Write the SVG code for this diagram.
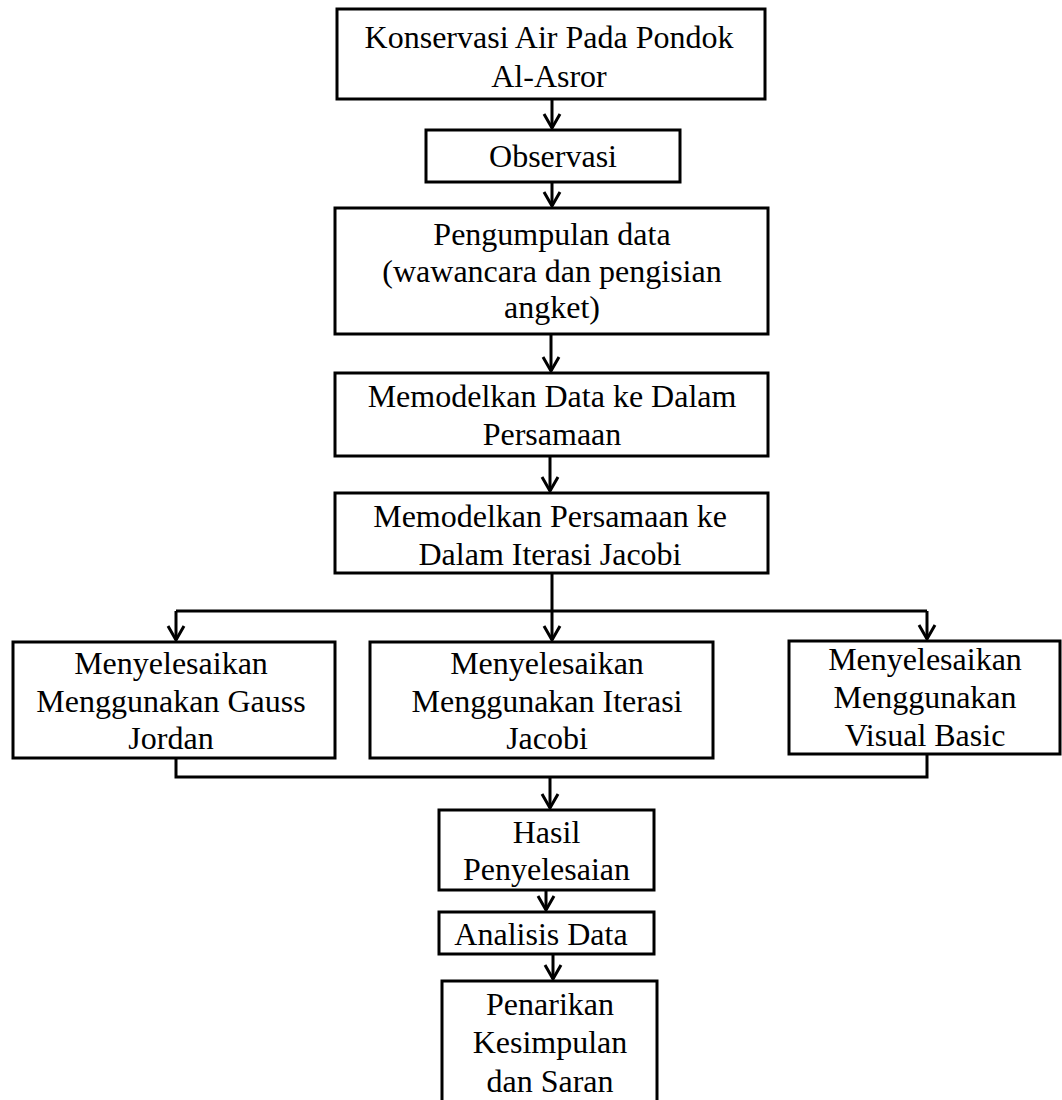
<svg xmlns="http://www.w3.org/2000/svg" width="1062" height="1100" viewBox="0 0 1062 1100">
<style>
.box{fill:#fff;stroke:#000;stroke-width:3}
.t{font-family:"Liberation Serif","Times New Roman",serif;font-size:32px;fill:#000;text-anchor:middle}
.c{fill:none;stroke:#000;stroke-width:3}
</style>
<defs>
<marker id="ah" markerUnits="userSpaceOnUse" orient="auto" overflow="visible" refX="0" refY="0" markerWidth="20" markerHeight="20">
<path d="M-14,-8 L0,0 L-14,8" fill="none" stroke="#000" stroke-width="3" stroke-linejoin="miter"/>
</marker>
</defs>
<rect width="1062" height="1100" fill="#fff"/>
<g id="connectors">
<line class="c" x1="552" y1="99" x2="552" y2="128" marker-end="url(#ah)"/>
<line class="c" x1="552" y1="182" x2="552" y2="206" marker-end="url(#ah)"/>
<line class="c" x1="551" y1="334" x2="551" y2="371" marker-end="url(#ah)"/>
<line class="c" x1="550" y1="456" x2="550" y2="491" marker-end="url(#ah)"/>
<line class="c" x1="552" y1="573" x2="552" y2="611"/>
<line class="c" x1="176" y1="611" x2="927" y2="611"/>
<line class="c" x1="176" y1="611" x2="176" y2="640" marker-end="url(#ah)"/>
<line class="c" x1="552" y1="611" x2="552" y2="640" marker-end="url(#ah)"/>
<line class="c" x1="927" y1="611" x2="927" y2="639" marker-end="url(#ah)"/>
<polyline class="c" points="176,758 176,777 927,777 927,754"/>
<line class="c" x1="550" y1="777" x2="550" y2="808" marker-end="url(#ah)"/>
<line class="c" x1="546" y1="890" x2="546" y2="910" marker-end="url(#ah)"/>
<line class="c" x1="553" y1="954" x2="553" y2="979" marker-end="url(#ah)"/>
</g>
<g id="n1"><rect class="box" x="337" y="9" width="428" height="90"/>
<text class="t" x="549" y="48">Konservasi Air Pada Pondok</text>
<text class="t" x="549" y="87">Al-Asror</text></g>
<g id="n2"><rect class="box" x="426" y="130" width="254" height="52"/>
<text class="t" x="553" y="167">Observasi</text></g>
<g id="n3"><rect class="box" x="335" y="208" width="433" height="126"/>
<text class="t" x="552" y="245">Pengumpulan data</text>
<text class="t" x="552" y="282">(wawancara dan pengisian</text>
<text class="t" x="552" y="318">angket)</text></g>
<g id="n4"><rect class="box" x="335" y="373" width="433" height="83"/>
<text class="t" x="552" y="407">Memodelkan Data ke Dalam</text>
<text class="t" x="552" y="445">Persamaan</text></g>
<g id="n5"><rect class="box" x="335" y="493" width="433" height="80"/>
<text class="t" x="550" y="527">Memodelkan Persamaan ke</text>
<text class="t" x="550" y="565">Dalam Iterasi Jacobi</text></g>
<g id="n6"><rect class="box" x="13" y="642" width="322" height="116"/>
<text class="t" x="171" y="674">Menyelesaikan</text>
<text class="t" x="171" y="712">Menggunakan Gauss</text>
<text class="t" x="171" y="749">Jordan</text></g>
<g id="n7"><rect class="box" x="370" y="642" width="343" height="116"/>
<text class="t" x="547" y="674">Menyelesaikan</text>
<text class="t" x="547" y="712">Menggunakan Iterasi</text>
<text class="t" x="547" y="749">Jacobi</text></g>
<g id="n8"><rect class="box" x="789" y="641" width="271" height="113"/>
<text class="t" x="925" y="670">Menyelesaikan</text>
<text class="t" x="925" y="708">Menggunakan</text>
<text class="t" x="925" y="746">Visual Basic</text></g>
<g id="n9"><rect class="box" x="439" y="810" width="215" height="80"/>
<text class="t" x="546.5" y="843">Hasil</text>
<text class="t" x="546.5" y="880">Penyelesaian</text></g>
<g id="n10"><rect class="box" x="439" y="912" width="215" height="42"/>
<text class="t" x="541" y="945">Analisis Data</text></g>
<g id="n11"><rect class="box" x="442" y="981" width="215" height="130"/>
<text class="t" x="550" y="1015">Penarikan</text>
<text class="t" x="550" y="1053">Kesimpulan</text>
<text class="t" x="550" y="1092">dan Saran</text></g>
</svg>
